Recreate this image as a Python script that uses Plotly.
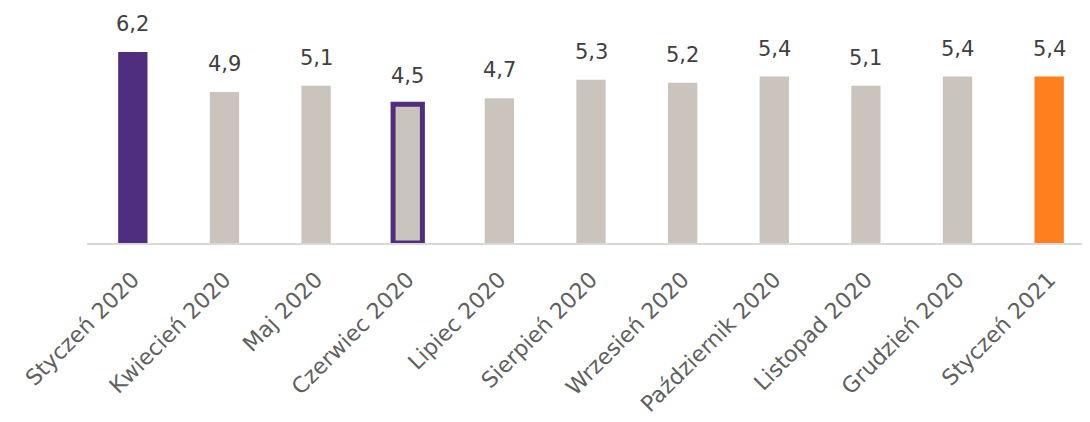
import plotly.graph_objects as go

categories = ["Styczeń 2020", "Kwiecień 2020", "Maj 2020", "Czerwiec 2020", "Lipiec 2020",
              "Sierpień 2020", "Wrzesień 2020", "Październik 2020", "Listopad 2020",
              "Grudzień 2020", "Styczeń 2021"]
values = [6.2, 4.9, 5.1, 4.5, 4.7, 5.3, 5.2, 5.4, 5.1, 5.4, 5.4]
labels = ["6,2", "4,9", "5,1", "4,5", "4,7", "5,3", "5,2", "5,4", "5,1", "5,4", "5,4"]

PURPLE = "#4f2d7f"
GRAY = "#cbc4bd"
ORANGE = "#ff7f1e"
FONT = "DejaVu Sans, Noto Sans, sans-serif"

colors = [GRAY] * len(values)
colors[0] = PURPLE
colors[-1] = ORANGE
line_colors = ["rgba(0,0,0,0)"] * len(values)
line_widths = [0] * len(values)
line_colors[3] = PURPLE
line_widths[3] = 5

fig = go.Figure()
fig.add_trace(go.Bar(
    x=categories, y=values,
    marker=dict(color=colors, line=dict(color=line_colors, width=line_widths)),
    width=0.32,
    hoverinfo="skip",
))

for c, v, t in zip(categories, values, labels):
    fig.add_annotation(x=c, y=v, text=t, showarrow=False, yanchor="bottom",
                       yshift=14, font=dict(family=FONT, size=21, color="#404040"))

fig.update_layout(
    width=1090, height=422,
    margin=dict(l=79, r=3, t=2, b=187),
    paper_bgcolor="white", plot_bgcolor="white",
    showlegend=False,
    font=dict(family=FONT),
)
fig.update_xaxes(
    tickangle=-45,
    tickfont=dict(family=FONT, size=22, color="#606060"),
    ticklabelstandoff=13,
    showline=True, linecolor="#d9d9d9", linewidth=2,
    showgrid=False, ticks="",
    automargin=False,
)
fig.update_yaxes(range=[0, 7.56], visible=False, showgrid=False, zeroline=False)

fig.write_html("out.html")
